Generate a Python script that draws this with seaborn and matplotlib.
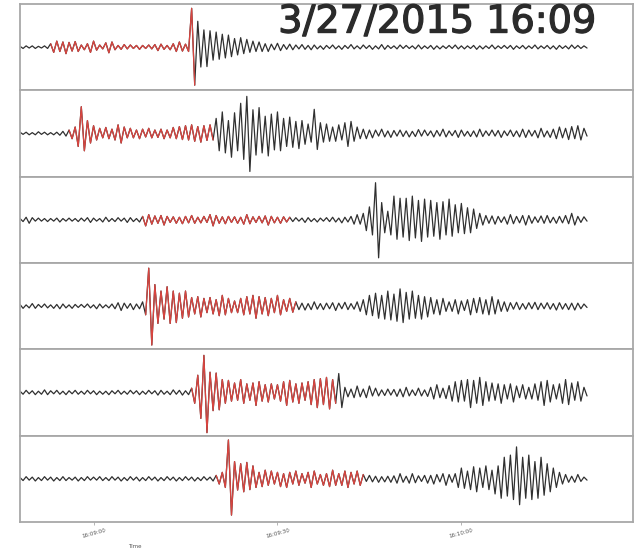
import numpy as np
import pandas as pd
import matplotlib
matplotlib.use("Agg")
import matplotlib.pyplot as plt
import matplotlib.patheffects as pe
import seaborn as sns

# Six station records, signed amplitudes (percent of panel half-height), one value every 0.5 s
station_1 = [
    2, -3, 3, -2, 3, -3, 2, -2, 3, -3,
    8, -12, 14, -10, 12, -15, 11, -9, 13, -10,
    5, -6, 8, -12, 14, -7, 5, -4, 10, -13,
    12, -6, 4, -5, 6, -4, 5, -3, 4, -5,
    4, -3, 5, -4, 6, -8, 7, -5, 4, -6,
    8, -10, 12, -9, 7, -10, 90, -88,
    60, -46, 40, -45, 38, -30, 35, -28, 30, -25, 28, -22,
    20, -18, 22, -15, 18, -12, 14, -10, 12, -10,
    8, -10, 7, -6, 9, -8, 6, -5, 7, -6, 5, -4, 6, -5, 4, -6, 5, -4, 3, -5,
    4, -3, 5, -4, 3, -5, 4, -3, 6, -4,
    3, -4, 5, -3, 4, -5, 3, -4, 6, -5,
    4, -3, 3, -4, 5, -3, 4, -3, 3, -4,
    5, -4, 3, -3, 4, -5, 3, -4, 3, -3,
    4, -3, 5, -4, 3, -4, 3, -3, 4, -5,
    3, -4, 3, -3, 5, -4, 3, -3, 4, -3,
    4, -5, 3, -3, 4, -4, 3, -3, 5, -4,
    3, -3, 4, -4, 3, -5, 4, -3, 3, -4,
    5, -3, 4, -3, 3, -2,
]
station_2 = [
    3, -2, 3, -3, 2, -3, 4, -2, 3, -3, 2, -3, 3, -4, 5, -6,
    8, -12, 15, -30, 62, -40, 30, -22, 18, -15,
    12, -10, 14, -12, 10, -15, 20, -22, 15, -10,
    12, -10, 8, -12, 10, -8, 12, -10, 8, -9,
    10, -12, 8, -10, 14, -12, 16, -14, 18, -15,
    20, -18, 16, -20, 18, -16, 20, -15,
    35, -40, 50, -45, 30, -55, 48, -40, 70, -60, 86, -88,
    55, -50, 60, -45, 40, -52, 45, -38, 50, -40,
    35, -30, 38, -32, 28, -35, 30, -25, 22, -20,
    56, -37, 25, -20, 22, -18, 15, -18, 20, -15,
    25, -30, 28, -18, 15, -12, 10, -12, 8, -10,
    8, -6, 10, -8, 6, -9, 7, -6, 8, -7,
    6, -8, 5, -7, 9, -6, 8, -5, 6, -8,
    7, -6, 10, -8, 6, -5, 7, -9, 8, -6,
    5, -7, 6, -8, 10, -7, 6, -5, 8, -6,
    7, -9, 6, -5, 8, -7, 6, -8, 10, -9,
    8, -6, 7, -10, 12, -8, 6, -9, 10, -12,
    15, -10, 12, -14, 16, -12, 18, -15, 12, -6,
]
station_3 = [
    3, -4, 6, -8, 5, -3, 4, -3, 3, -4,
    3, -3, 4, -5, 3, -3, 4, -3, 3, -4,
    4, -3, 5, -6, 4, -3, 3, -5, 6, -4,
    3, -4, 5, -3, 4, -6, 5, -4, 3, -5,
    8, -14, 12, -10, 9, -8, 10, -12, 8, -6,
    7, -8, 6, -9, 8, -7, 10, -8, 6, -7,
    8, -6, 12, -14, 10, -8, 7, -9, 8, -6,
    7, -8, 6, -10, 12, -9, 7, -6, 8, -7,
    9, -12, 8, -7, 6, -8, 7, -5, 6,
    -4, 5, -3, 4, -6, 5, -4, 3, -5, 4, -3,
    5, -4, 6, -5, 4, -7, 6, -5, 8, -10, 12, -10,
    15, -25, 30, -35, 86, -88,
    40, -30, 20, -35, 55, -45, 50, -40,
    50, -48, 55, -42, 45, -50, 48, -40, 45, -38,
    40, -45, 42, -35, 48, -38, 35, -30, 38, -32,
    28, -30, 25, -20, 15, -12, 10, -8, 9, -10,
    8, -6, 7, -10, 12, -9, 8, -7, 10, -12,
    10, -8, 7, -6, 9, -8, 10, -7, 6, -8,
    8, -7, 10, -9, 15, -12, 8, -6, 7, -3,
]
station_4 = [
    4, -5, 3, -4, 6, -5, 4, -3, 5, -4,
    3, -5, 4, -6, 5, -4, 3, -5, 4, -3,
    4, -3, 5, -4, 3, -6, 5, -4, 3, -4,
    5, -6, 8, -10, 7, -5, 6, -8, 5, -6,
    10,
    -20, 88, -90, 50, -40, 35, -30, 45, -40, 35,
    -38, 30, -28, 35, -25, 20, -18, 22, -25, 18,
    -15, 20, -18, 15, -22, 25, -20, 18, -15, 12,
    -15, 18, -20, 22, -18, 25, -28, 22, -18, 20,
    -22, 18, -15, 25, -20, 15, -12, 18, -14, 10,
    -8, 7, -9, 6, -8, 10, -7, 6, -8, 7,
    -6, 8, -10, 7, -6, 9, -8, 6, -7, 10,
    -12, 15, -20, 25, -22, 30, -28, 25, -30, 35,
    -32, 28, -35, 40, -38, 32, -30, 35, -28, 25,
    -30, 22, -25, 20, -18, 15, -20, 18, -12, 10,
    -12, 15, -18, 12, -10, 15, -20, 18, -15, 20,
    -18, 15, -20, 22, -18, 15, -12, 10, -12, 8,
    -7, 9, -8, 6, -7, 8, -6, 9, -8, 7,
    -6, 8, -7, 6, -9, 8, -7, 6, -8, 7,
    -9, 7, -6, 5, -3,
]
station_5 = [
    3, -4, 5, -3, 4, -5, 3, -4, 6, -5,
    4, -3, 5, -4, 3, -5, 4, -3, 5, -4,
    3, -4, 5, -3, 4, -5, 3, -4, 3, -5,
    4, -3, 5, -4, 3, -4, 5, -3, 4, -5,
    3, -4, 5, -3, 4, -6, 5, -4, 3, -5,
    6, -4, 5, -6, 4, -5,
    10, -25, 40, -60, 86, -93, 47, -42, 45, -40,
    30, -25, 28, -20, 22, -18, 30, -25, 20, -18,
    22, -30, 25, -20, 18, -22, 20, -15, 18, -20,
    25, -30, 28, -22, 20, -25, 22, -18, 25, -28,
    30, -35, 32, -28, 35, -38, 30, -25, 44, -35,
    12, -10, 8, -12, 15, -10, 8, -12, 15, -8,
    10, -8, 6, -7, 8, -6, 7, -9, 8, -10,
    12, -8, 6, -7, 10, -8, 6, -9, 12, -15,
    18, -12, 10, -14, 16, -20, 25, -22, 28, -20,
    30, -35, 28, -25, 35, -30, 25, -20, 22, -18,
    20, -25, 18, -15, 20, -22, 15, -12, 18, -15,
    12, -15, 20, -18, 25, -30, 28, -22, 18, -15,
    20, -25, 30, -28, 22, -18, 25, -20, 12, -8,
]
station_6 = [
    3, -4, 5, -3, 4, -5, 3, -4, 5, -3,
    4, -5, 3, -4, 5, -4, 3, -3, 4, -5,
    3, -4, 5, -3, 4, -3, 5, -4, 3, -4,
    5, -3, 4, -5, 3, -4, 5, -3, 4, -5,
    3, -4, 5, -3, 4, -5, 3, -4, 5, -3,
    4, -5, 3, -4, 5, -3, 4, -5, 3, -4,
    5, -3, 4, -5,
    8, -12, 15, -20, 90, -84, 40, -26, 35, -30,
    38, -25, 30, -20, 15, -18, 20, -15, 18, -12,
    15, -18, 12, -20, 15, -12, 18, -15, 12, -10,
    15, -20, 18, -12, 10, -15, 12, -18, 20, -15,
    12, -15, 18, -20, 15, -12, 18, -15, 10,
    -6, 8, -7, 6, -8, 5, -7, 6, -8, 7,
    -10, 12, -8, 6, -10, 12, -9, 7, -6, 8,
    -10, 8, -12, 10, -7, 12, -15, 10, -8, 12,
    -20, 25, -22, 18, -25, 28, -30, 25, -20, 30,
    -25, 20, -35, 30, -45, 50, -40, 55, -48, 74,
    -60, 50, -45, 55, -48, 40, -45, 50, -38, 35,
    -30, 25, -20, 15, -12, 10, -8, 6,
    -8, 10, -6, 4, -3,
]
records = [station_1, station_2, station_3, station_4, station_5, station_6]

# Highlighted analysis window of each record (seconds from record start)
window_start = [5.0, 8.0, 20.0, 20.5, 28.0, 32.0]
window_end = [28.5, 31.5, 44.0, 45.0, 51.5, 56.0]

sample_step = 0.5
tick_seconds = [12, 42, 72]
tick_labels = ["16:09:00", "16:09:30", "16:10:00"]
title_text = "3/27/2015 16:09"
x_label = "Time"

sns.set_theme(style="white")
plt.rcParams["font.family"] = ["DejaVu Sans"]

fig, axes = plt.subplots(len(records), 1, figsize=(6.37, 5.54), dpi=100, sharex=True)
fig.subplots_adjust(left=20 / 637, right=633 / 637, top=1 - 4 / 554,
                    bottom=1 - 522 / 554, hspace=0)

trace_color = "#303030"
window_color = "#d9443f"
spine_color = "#a8a8a8"

for ax, values, t0, t1 in zip(axes, records, window_start, window_end):
    amp = np.asarray(values, dtype=float) / 100.0
    df = pd.DataFrame({"t": np.arange(len(amp)) * sample_step, "amp": amp})
    sns.lineplot(data=df, x="t", y="amp", ax=ax, color=trace_color,
                 linewidth=0.9, estimator=None, sort=False)
    win = df[(df["t"] >= t0) & (df["t"] <= t1)]
    sns.lineplot(data=win, x="t", y="amp", ax=ax, color=window_color,
                 linewidth=0.9, estimator=None, sort=False)
    ax.set_ylim(-1.0, 1.0)
    ax.set_xlim(0, 100)
    ax.set_yticks([])
    ax.set_ylabel("")
    ax.set_xlabel("")
    for s in ax.spines.values():
        s.set_visible(True)
        s.set_color(spine_color)
        s.set_linewidth(1.3)

bottom = axes[-1]
bottom.set_xticks(tick_seconds)
bottom.set_xticklabels(tick_labels, rotation=15, fontsize=4, color="#555555")
bottom.tick_params(axis="x", length=2, width=0.6, color=spine_color, pad=2, bottom=True)

title = axes[0].text(0.681, 0.785, title_text, transform=axes[0].transAxes,
                     ha="center", va="center", fontsize=27.5,
                     family=["DejaVu Sans"], color="#2b2b2b")
title.set_path_effects([pe.withStroke(linewidth=0.9, foreground="#2b2b2b")])

fig.text(135 / 637, 1 - 547 / 554, x_label, ha="center", va="center",
         fontsize=4, color="#555555")

fig.savefig("out.png", dpi=100, facecolor="white")
